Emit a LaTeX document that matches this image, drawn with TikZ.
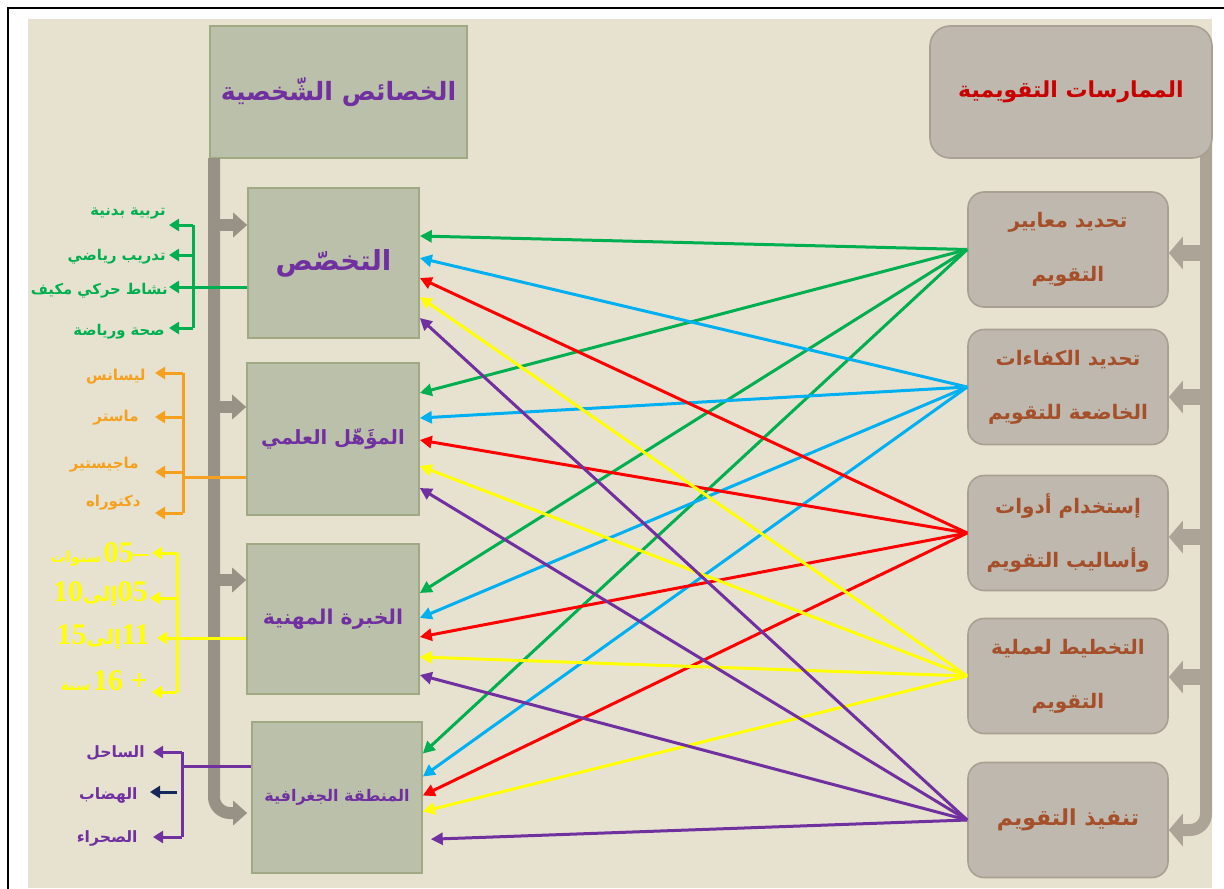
\documentclass[tikz,border=0pt]{standalone}
\usepackage{fontspec}
\usetikzlibrary{arrows.meta,calc}
\TeXXeTstate=1
\newfontfamily\arf[Script=Arabic]{DejaVu Sans}
\newfontfamily\numf{Liberation Serif}
\newcommand{\RLt}[1]{\beginR#1\endR}
\newcommand{\fs}[1]{\fontsize{#1}{#1}\selectfont}
\definecolor{bgc}{RGB}{231,226,207}
\definecolor{lfill}{RGB}{187,192,170}
\definecolor{lbord}{RGB}{160,168,132}
\definecolor{rfill}{RGB}{190,184,175}
\definecolor{rbord}{RGB}{168,160,146}
\definecolor{lbarc}{RGB}{152,145,133}
\definecolor{rbarc}{RGB}{172,164,150}
\definecolor{purp}{RGB}{112,48,160}
\definecolor{darkred}{RGB}{200,0,0}
\definecolor{brn}{RGB}{165,80,42}
\definecolor{cgreen}{RGB}{0,176,80}
\definecolor{cblue}{RGB}{0,176,240}
\definecolor{cred}{RGB}{255,0,0}
\definecolor{cyel}{RGB}{255,255,0}
\definecolor{corange}{RGB}{245,160,30}
\definecolor{cnavy}{RGB}{20,40,90}
\begin{document}
\begin{tikzpicture}[x=0.5pt,y=-0.5pt,
  lbox/.style={draw=lbord,fill=lfill,line width=0.8pt,inner sep=0pt,text=purp,font=\arf\bfseries},
  rbox/.style={draw=rbord,fill=rfill,line width=0.8pt,rounded corners=8pt,inner sep=0pt,text=brn,align=center,minimum width=100pt,minimum height=57.5pt,font=\arf\bfseries\fontsize{10}{27}\selectfont},
  conn/.style={line width=1.5pt,-{Triangle[length=6pt,width=6pt]}},
  lbarar/.style={draw=lbarc,line width=6pt,-{Triangle[length=7pt,width=12pt]}},
  rbarend/.style={draw=rbarc,line width=6pt,-{Triangle[length=7pt,width=16pt]}},
  rbarar/.style={draw=rbarc,line width=8pt,-{Triangle[length=7pt,width=16pt]}},
  brk/.style={line width=1.5pt},
  brka/.style={line width=1.5pt,-{Triangle[length=5pt,width=6pt]}},
  lab/.style={anchor=east,inner sep=0pt,font=\arf\bfseries\fs{7.4}},
]
\useasboundingbox (0,0) rectangle (1224,888);
\fill[white] (0,0) rectangle (1224,888);
\fill[bgc] (28,19) rectangle (1212,888);
\draw[black,line width=1.2pt] (8,892) -- (8,8) -- (1228,8);

% bar coordinates
\coordinate (lb0) at (214,158);
\coordinate (lb1) at (214,225);
\coordinate (lb2) at (214,407);
\coordinate (lb3) at (214,580);
\coordinate (lb4) at (214,813);
\coordinate (rb0) at (1206,140);
\coordinate (rb1) at (1206,253);
\coordinate (rb2) at (1206,397);
\coordinate (rb3) at (1206,537);
\coordinate (rb4) at (1206,677);
\coordinate (rb5) at (1206,830);

% headers
\node[lbox,minimum width=128.5pt,minimum height=66pt,font=\arf\bfseries\fs{12.6}] (hL) at (338.5,92) {\RLt{الخصائص الشّخصية}};

% left boxes
\node[lbox,minimum width=85.5pt,minimum height=75pt,font=\arf\bfseries\fs{13.8}] (L1) at (333.5,263) {\RLt{التخصّص}};
\node[lbox,minimum width=86pt,minimum height=76pt,font=\arf\bfseries\fs{9.8}] (L2) at (333,439) {\RLt{المؤَهّل العلمي}};
\node[lbox,minimum width=86pt,minimum height=75pt,font=\arf\bfseries\fs{10.2}] (L3) at (333,619) {\RLt{الخبرة المهنية}};
\node[lbox,minimum width=85pt,minimum height=75.5pt,font=\arf\bfseries\fs{8}] (L4) at (337,797.5) {\RLt{المنطقة الجغرافية}};

% right boxes
\node[rbox] (R1) at (1068,249.5) {\RLt{تحديد معايير}\\\RLt{التقويم}};
\node[rbox] (R2) at (1068,387) {\RLt{تحديد الكفاءات}\\\RLt{الخاضعة للتقويم}};
\node[rbox] (R3) at (1068,533) {\RLt{إستخدام أدوات}\\\RLt{وأساليب التقويم}};
\node[rbox] (R4) at (1068,676) {\RLt{التخطيط لعملية}\\\RLt{التقويم}};
\node[rbox,font=\arf\bfseries\fs{11}] (R5) at (1068,820) {\RLt{تنفيذ التقويم}};

% right gray bar (behind header) ending in an arrow into R5
\draw[rbarend,rounded corners=8pt] (rb0) |- (R5.east |- rb5);
\node[draw=rbord,fill=rfill,line width=0.8pt,rounded corners=10pt,minimum width=141pt,minimum height=66pt,inner sep=0pt,text=darkred,font=\arf\bfseries\fs{11}] (hR) at (1071,92) {\RLt{الممارسات التقويمية}};

% left gray bar and its arrows
\draw[lbarar,rounded corners=8pt,shorten >=2pt] (lb0) |- (L4.west |- lb4);
\draw[lbarar] (lb1) -- (L1.west |- lb1);
\draw[lbarar] (lb2) -- (L2.west |- lb2);
\draw[lbarar] (lb3) -- (L3.west |- lb3);

% right gray bar arrows
\draw[rbarar] (rb1) -- (R1.east |- rb1);
\draw[rbarar] (rb2) -- (R2.east |- rb2);
\draw[rbarar] (rb3) -- (R3.east |- rb3);
\draw[rbarar] (rb4) -- (R4.east |- rb4);

% connectors
\draw[conn,cgreen] (R1.west) -- ($(L1.east)+(0,-27)$);
\draw[conn,cgreen] (R1.west) -- ($(L2.east)+(0,-46)$);
\draw[conn,cgreen] (R1.west) -- ($(L3.east)+(0,-26)$);
\draw[conn,cgreen] (R1.west) -- ($(L4.east)+(0,-44)$);
\draw[conn,cblue] (R2.west) -- ($(L1.east)+(0,-5)$);
\draw[conn,cblue] (R2.west) -- ($(L2.east)+(0,-21)$);
\draw[conn,cblue] (R2.west) -- ($(L3.east)+(0,-1)$);
\draw[conn,cblue] (R2.west) -- ($(L4.east)+(0,-21)$);
\draw[conn,cred] (R3.west) -- ($(L1.east)+(0,15)$);
\draw[conn,cred] (R3.west) -- ($(L2.east)+(0,1)$);
\draw[conn,cred] (R3.west) -- ($(L3.east)+(0,18)$);
\draw[conn,cred] (R3.west) -- ($(L4.east)+(0,-2)$);
\draw[conn,cyel] (R4.west) -- ($(L1.east)+(0,34)$);
\draw[conn,cyel] (R4.west) -- ($(L2.east)+(0,27)$);
\draw[conn,cyel] (R4.west) -- ($(L3.east)+(0,38)$);
\draw[conn,cyel] (R4.west) -- ($(L4.east)+(0,14)$);
\draw[conn,purp] (R5.west) -- ($(L1.east)+(0,55)$);
\draw[conn,purp] (R5.west) -- ($(L2.east)+(0,49)$);
\draw[conn,purp] (R5.west) -- ($(L3.east)+(0,56)$);
\draw[conn,purp,shorten >=4pt] (R5.west) -- ($(L4.east)+(0,42)$);

% green group
\coordinate (gb1) at (193,225);
\coordinate (gb2) at (193,255);
\coordinate (gb3) at (193,287);
\coordinate (gb4) at (193,328);
\node[lab,text=cgreen] (g1) at (166,214) {\RLt{تربية بدنية}};
\node[lab,text=cgreen] (g2) at (166,257) {\RLt{تدريب رياضي}};
\node[lab,text=cgreen] (g3) at (168,291) {\RLt{نشاط حركي مكيف}};
\node[lab,text=cgreen] (g4) at (165,332) {\RLt{صحة ورياضة}};
\draw[brk,cgreen] (L1.west |- gb3) -- (gb3);
\draw[brk,cgreen] (gb1) -- (gb4);
\draw[brka,cgreen] (gb1) -- ($(gb1)+(-24,0)$);
\draw[brka,cgreen] (gb2) -- ($(gb2)+(-24,0)$);
\draw[brka,cgreen] (gb3) -- ($(gb3)+(-24,0)$);
\draw[brka,cgreen] (gb4) -- ($(gb4)+(-24,0)$);

% orange group
\coordinate (ob1) at (183,373);
\coordinate (ob2) at (183,417);
\coordinate (ob3) at (183,472);
\coordinate (ob4) at (183,513);
\coordinate (oj) at (183,477);
\node[lab,text=corange,font=\arf\bfseries\fs{7.5}] (o1) at (146,377) {\RLt{ليسانس}};
\node[lab,text=corange,font=\arf\bfseries\fs{7.5}] (o2) at (139,418) {\RLt{ماستر}};
\node[lab,text=corange,font=\arf\bfseries\fs{7.5}] (o3) at (139,465) {\RLt{ماجيستير}};
\node[lab,text=corange,font=\arf\bfseries\fs{7.5}] (o4) at (141,503) {\RLt{دكتوراه}};
\draw[brk,corange] (L2.west |- oj) -- (oj);
\draw[brk,corange] (ob1) -- (ob4);
\draw[brka,corange] (ob1) -- ($(ob1)+(-28,0)$);
\draw[brka,corange] (ob2) -- ($(ob2)+(-28,0)$);
\draw[brka,corange] (ob3) -- ($(ob3)+(-28,0)$);
\draw[brka,corange] (ob4) -- ($(ob4)+(-28,0)$);

% yellow group
\coordinate (yb1) at (177,553);
\coordinate (yb2) at (177,598);
\coordinate (yb3) at (177,638);
\coordinate (yb4) at (177,692);
\node[lab,text=cyel] (y1) at (149,554) {{\fs{7.5}\RLt{سنوات}}\,{\numf\bfseries\fs{15}05–}};
\node[lab,text=cyel] (y2) at (148,594) {{\numf\bfseries\fs{15}10}{\fs{10}\RLt{إلى}}{\numf\bfseries\fs{15}05}};
\node[lab,text=cyel] (y3) at (150,637) {{\numf\bfseries\fs{15}15}{\fs{10}\RLt{إلى}}{\numf\bfseries\fs{15}11}};
\node[lab,text=cyel] (y4) at (148,681) {{\fs{7.5}\RLt{سنة}}\,{\numf\bfseries\fs{15}16 +}};
\draw[brk,cyel] (L3.west |- yb3) -- (yb3);
\draw[brk,cyel] (yb1) -- (yb4);
\draw[brka,cyel] (yb1) -- ($(yb1)+(-25,0)$);
\draw[brka,cyel] (yb2) -- ($(yb2)+(-27,0)$);
\draw[brka,cyel] (yb3) -- ($(yb3)+(-20,0)$);
\draw[brka,cyel] (yb4) -- ($(yb4)+(-25,0)$);

% purple group
\coordinate (pb1) at (182,752);
\coordinate (pb3) at (182,837);
\coordinate (pj) at (182,766);
\coordinate (pn) at (177,792);
\node[lab,text=purp,font=\arf\bfseries\fs{7.8}] (p1) at (145,753) {\RLt{الساحل}};
\node[lab,text=purp,font=\arf\bfseries\fs{7.8}] (p2) at (138,795) {\RLt{الهضاب}};
\node[lab,text=purp,font=\arf\bfseries\fs{7.8}] (p3) at (138,838) {\RLt{الصحراء}};
\draw[brk,purp] (L4.west |- pj) -- (pj);
\draw[brk,purp] (pb1) -- (pb3);
\draw[brka,purp] (pb1) -- ($(pb1)+(-29,0)$);
\draw[brka,purp] (pb3) -- ($(pb3)+(-29,0)$);
\draw[brka,cnavy] (pn) -- ($(pn)+(-27,0)$);
\end{tikzpicture}
\end{document}
